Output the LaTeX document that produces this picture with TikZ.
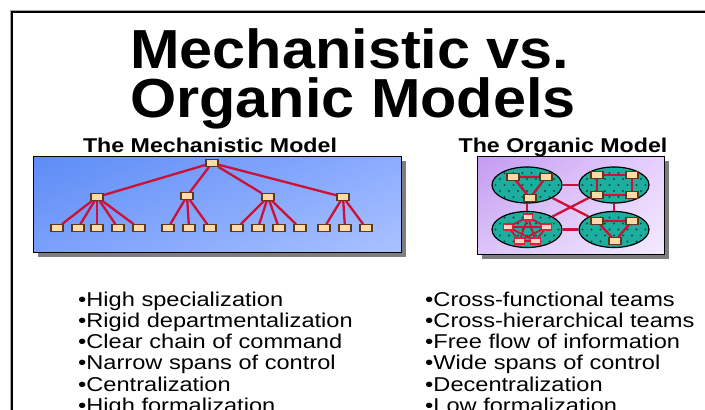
\documentclass[tikz,border=0pt]{standalone}
\usepackage{fontspec}
\setmainfont{Liberation Sans}
\usetikzlibrary{shapes.geometric,shadings}
\definecolor{redl}{HTML}{CC1038}
\definecolor{boxfill}{HTML}{FFD9A6}
\definecolor{boxdraw}{HTML}{5A3A1A}
\definecolor{pfill}{HTML}{FFD6C4}
\definecolor{pdraw}{HTML}{E0203C}
\definecolor{teal}{HTML}{1CAE9E}
\definecolor{dotc}{HTML}{0B4F47}
\definecolor{shadowc}{HTML}{7E7E7E}
\definecolor{bUL}{RGB}{92,140,246}
\definecolor{bUR}{RGB}{140,172,255}
\definecolor{bLL}{RGB}{122,160,250}
\definecolor{bLR}{RGB}{170,194,255}
\definecolor{pUL}{RGB}{196,154,242}
\definecolor{pUR}{RGB}{230,208,252}
\definecolor{pLL}{RGB}{220,196,248}
\definecolor{pLR}{RGB}{244,234,255}
\begin{document}
\begin{tikzpicture}[x=1pt,y=-1pt,
  link/.style={draw=redl,line width=2.3pt},
  orgbox/.style={rectangle,minimum width=12pt,minimum height=6.5pt,inner sep=0pt,fill=boxfill,draw=boxdraw,line width=1.2pt},
  pbox/.style={rectangle,minimum width=9.5pt,minimum height=6pt,inner sep=0pt,fill=pfill,draw=pdraw,line width=1.1pt},
  cell/.style={ellipse,minimum width=70pt,minimum height=36pt,inner sep=0pt,fill=teal,draw=black,line width=1.2pt,
    path picture={\foreach \j in {-3,...,3} \foreach \i in {-5,...,5} {
      \pgfmathsetmacro\ox{mod(\j+3,2)*4.5}
      \fill[dotc,shift={(path picture bounding box.center)}] (\i*9+\ox,\j*6) circle (1.2pt);}}},
  titletext/.style={anchor=base,font=\fontsize{55}{60}\selectfont\bfseries},
  subtext/.style={anchor=base,font=\fontsize{20}{24}\selectfont\bfseries},
  bullet/.style={anchor=base west,font=\fontsize{20}{24}\selectfont,inner sep=0pt}]
\useasboundingbox (0,0) rectangle (705,410);
\clip (0,0) rectangle (705,410);
\fill[white] (0,0) rectangle (705,410);
% frame
\draw[black!35,line width=1pt] (10,10) -- (10,430);
\draw[black!35,line width=1pt] (10,10) -- (730,10);
\draw[black,line width=2.2pt] (12,430) -- (12,12) -- (730,12);
% titles
\node[titletext] (t1) at (350,68) {\scalebox{1.08}[1]{Mechanistic vs.}};
\node[titletext] (t2) at (353,117) {\scalebox{1.08}[1]{Organic Models}};
\node[subtext] (s1) at (210,152) {\scalebox{1.16}[1]{The Mechanistic Model}};
\node[subtext] (s2) at (563,152) {\scalebox{1.16}[1]{The Organic Model}};
% mechanistic panel
\fill[shadowc] (38,161) rectangle (406,257);
\shade[upper left=bUL,upper right=bUR,lower left=bLL,lower right=bLR] (33,156) rectangle (401,252);
\draw[black,line width=0.8pt] (33,156) rectangle (401,252);
% organic panel
\fill[shadowc] (482,161) rectangle (669,259);
\shade[upper left=pUL,upper right=pUR,lower left=pLL,lower right=pLR] (477,156) rectangle (664,254);
\draw[black,line width=0.8pt] (477,156) rectangle (664,254);
% tree nodes
\node[orgbox] (m0) at (212,163) {};
\node[orgbox] (m1) at (97,197) {};
\node[orgbox] (m2) at (187,196) {};
\node[orgbox] (m3) at (268,197) {};
\node[orgbox] (m4) at (343,197) {};
\foreach \n/\x in {1/57,2/78,3/97,4/118,5/139,6/168,7/189,8/210,9/237,10/258,11/279,12/300,13/324,14/345,15/366}
  \node[orgbox] (l\n) at (\x,228) {};
\foreach \a in {m1,m2,m3,m4} \draw[link] (m0) -- (\a);
\foreach \b in {l1,l2,l3,l4,l5} \draw[link] (m1) -- (\b);
\foreach \b in {l6,l7,l8} \draw[link] (m2) -- (\b);
\foreach \b in {l9,l10,l11,l12} \draw[link] (m3) -- (\b);
\foreach \b in {l13,l14,l15} \draw[link] (m4) -- (\b);
% organic cells
\node[cell] (e1) at (527,185) {};
\node[cell] (e2) at (614,185) {};
\node[cell] (e3) at (527,229.5) {};
\node[cell] (e4) at (614,229.5) {};
\draw[link] (e1) -- (e2);
\draw[link] (e3) -- (e4);
\draw[link] (e1) -- (e3);
\draw[link] (e2) -- (e4);
\draw[link] (e1) -- (e4);
\draw[link] (e2) -- (e3);
% cell 1: triangle
\coordinate (a1) at (513,177);
\coordinate (a2) at (546,177);
\coordinate (a3) at (530,198);
\draw[link] (a1) -- (a2) -- (a3) -- cycle;
\node[orgbox] (na1) at (a1) {};
\node[orgbox] (na2) at (a2) {};
\node[orgbox] (na3) at (a3) {};
% cell 2: square
\coordinate (b1) at (597,175);
\coordinate (b2) at (632,175);
\coordinate (b3) at (632,195);
\coordinate (b4) at (597,195);
\draw[link] (b1) -- (b2) -- (b3) -- (b4) -- cycle;
\node[orgbox] (nb1) at (b1) {};
\node[orgbox] (nb2) at (b2) {};
\node[orgbox] (nb3) at (b3) {};
\node[orgbox] (nb4) at (b4) {};
% cell 3: pentagon, all connected
\coordinate (c1) at (528,217);
\coordinate (c2) at (546.5,227);
\coordinate (c3) at (535.5,241);
\coordinate (c4) at (519.5,241);
\coordinate (c5) at (508,227);
\foreach \p/\q in {c1/c2,c1/c3,c1/c4,c1/c5,c2/c3,c2/c4,c2/c5,c3/c4,c3/c5,c4/c5}
  \draw[link,line width=1.7pt] (\p) -- (\q);
\foreach \p in {c1,c2,c3,c4,c5} \node[pbox] (n\p) at (\p) {};
% cell 4: triangle
\coordinate (d1) at (597,221);
\coordinate (d2) at (632,221);
\coordinate (d3) at (615,241);
\draw[link] (d1) -- (d2) -- (d3) -- cycle;
\node[orgbox] (nd1) at (d1) {};
\node[orgbox] (nd2) at (d2) {};
\node[orgbox] (nd3) at (d3) {};
% bullets
\foreach \k/\txt in {0/High specialization,1/Rigid departmentalization,2/Clear chain of command,3/Narrow spans of control,4/Centralization,5/High formalization}
  \node[bullet] (bl\k) at (78,306+\k*21.3) {\scalebox{1.18}[1]{•\txt}};
\foreach \k/\txt in {0/Cross-functional teams,1/Cross-hierarchical teams,2/Free flow of information,3/Wide spans of control,4/Decentralization,5/Low formalization}
  \node[bullet] (br\k) at (425,306+\k*21.3) {\scalebox{1.18}[1]{•\txt}};
\end{tikzpicture}
\end{document}
